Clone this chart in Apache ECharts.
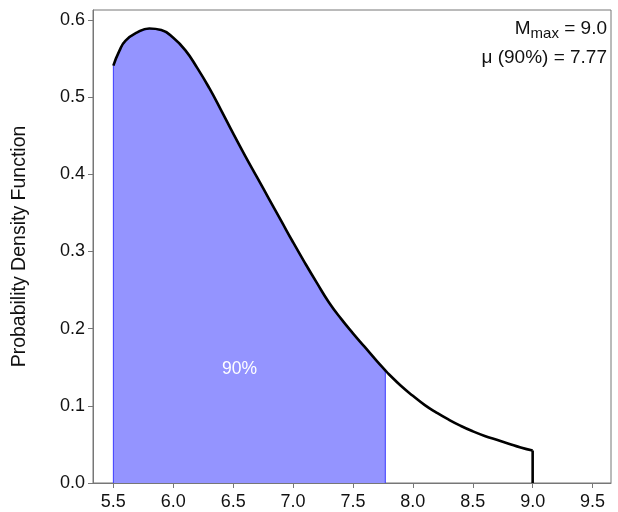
<!DOCTYPE html>
<html>
<head>
<meta charset="utf-8">
<script src="https://cdn.jsdelivr.net/npm/echarts@6/dist/echarts.min.js"></script>
<style>html,body{margin:0;padding:0;background:#fff}#c{width:618px;height:512px}</style>
</head>
<body>
<div id="c"></div>
<script>
// ---- data ----
var xs  = [5.5, 5.55, 5.6, 5.7, 5.8, 5.9, 6.0, 6.1, 6.2, 6.3, 6.4, 6.5, 6.6, 6.7, 6.8, 6.9, 7.0, 7.1, 7.2, 7.3, 7.4, 7.5, 7.6, 7.7, 7.77, 7.8, 7.9, 8.0, 8.1, 8.2, 8.3, 8.4, 8.5, 8.6, 8.7, 8.8, 8.9, 9.0];
var pdf = [0.541, 0.560, 0.573, 0.584, 0.589, 0.587, 0.577, 0.561, 0.538, 0.512, 0.483, 0.453, 0.424, 0.396, 0.368, 0.340, 0.312, 0.285, 0.259, 0.234, 0.213, 0.194, 0.176, 0.158, 0.146, 0.141, 0.126, 0.113, 0.101, 0.091, 0.082, 0.074, 0.067, 0.061, 0.056, 0.051, 0.046, 0.042];
var xTicks = [5.5, 6.0, 6.5, 7.0, 7.5, 8.0, 8.5, 9.0, 9.5];
var yTicks = [0.0, 0.1, 0.2, 0.3, 0.4, 0.5, 0.6];
var mMax = 9.0;
var mu90 = 7.77;
var shadeLabel = '90%';
var shadeLabelPos = [6.553, 0.148];
var yName = 'Probability Density Function';

// ---- build series ----
var curve = xs.map(function (x, i) { return [x, pdf[i]]; });
var drop = [[mMax, pdf[pdf.length - 1]], [mMax, 0]];
var shade = [[xs[0], 0]];
xs.forEach(function (x, i) { if (x <= mu90 + 1e-9) shade.push([x, pdf[i]]); });
shade.push([mu90, 0]);

var font = 'Liberation Sans, Arial, sans-serif';
var chart = echarts.init(document.getElementById('c'), null, {renderer: 'canvas'});
chart.setOption({
  animation: false,
  backgroundColor: '#fff',
  grid: {left: 93, right: 7, top: 10, bottom: 29, show: true, borderColor: '#777', borderWidth: 1},
  xAxis: {
    type: 'value', min: 5.33, max: 9.654,
    splitLine: {show: false},
    axisLine: {show: true, lineStyle: {color: '#777'}},
    axisTick: {show: true, customValues: xTicks, length: 5, lineStyle: {color: '#777'}},
    axisLabel: {customValues: xTicks, margin: 10, fontSize: 18, color: '#111', fontFamily: font,
      formatter: function (v) { return v.toFixed(1); }}
  },
  yAxis: {
    type: 'value', min: 0, max: 0.613,
    name: yName, nameLocation: 'middle', nameGap: 63,
    nameTextStyle: {fontSize: 19.5, color: '#111', fontFamily: font},
    splitLine: {show: false},
    axisLine: {show: true, lineStyle: {color: '#777'}},
    axisTick: {show: true, customValues: yTicks, length: 5, lineStyle: {color: '#777'}},
    axisLabel: {customValues: yTicks, margin: 8, fontSize: 18, color: '#111', fontFamily: font,
      formatter: function (v) { return v.toFixed(1); }}
  },
  series: [
    {
      type: 'line', data: shade, symbol: 'none', smooth: false,
      lineStyle: {color: '#3b3bff', width: 1},
      areaStyle: {color: '#9494ff', opacity: 1},
      z: 1,
      markPoint: {
        symbol: 'circle', symbolSize: 0, silent: true,
        data: [{coord: shadeLabelPos, value: shadeLabel}],
        label: {show: true, position: 'inside', color: '#fff', fontSize: 17.5, fontFamily: font,
          formatter: function () { return shadeLabel; }}
      }
    },
    {
      type: 'line', data: curve, symbol: 'none', smooth: 0.5,
      lineStyle: {color: '#000', width: 2.6},
      z: 2
    },
    {
      type: 'line', data: drop, symbol: 'none', smooth: false,
      lineStyle: {color: '#000', width: 2.6},
      z: 2
    }
  ],
  graphic: [
    {type: 'text', right: 11, top: 19,
      style: {text: '{n|M}{s|max}{n| = ' + mMax.toFixed(1) + '}', font: '19px ' + font, fill: '#111',
        rich: {n: {fontSize: 19, fontFamily: font, fill: '#111'},
               s: {fontSize: 15, fontFamily: font, fill: '#111', padding: [11, 0, 0, 0]}}}},
    {type: 'text', right: 11, top: 48,
      style: {text: 'μ (90%) = ' + mu90.toFixed(2), font: '19px ' + font, fill: '#111'}}
  ]
});
</script>
</body>
</html>
